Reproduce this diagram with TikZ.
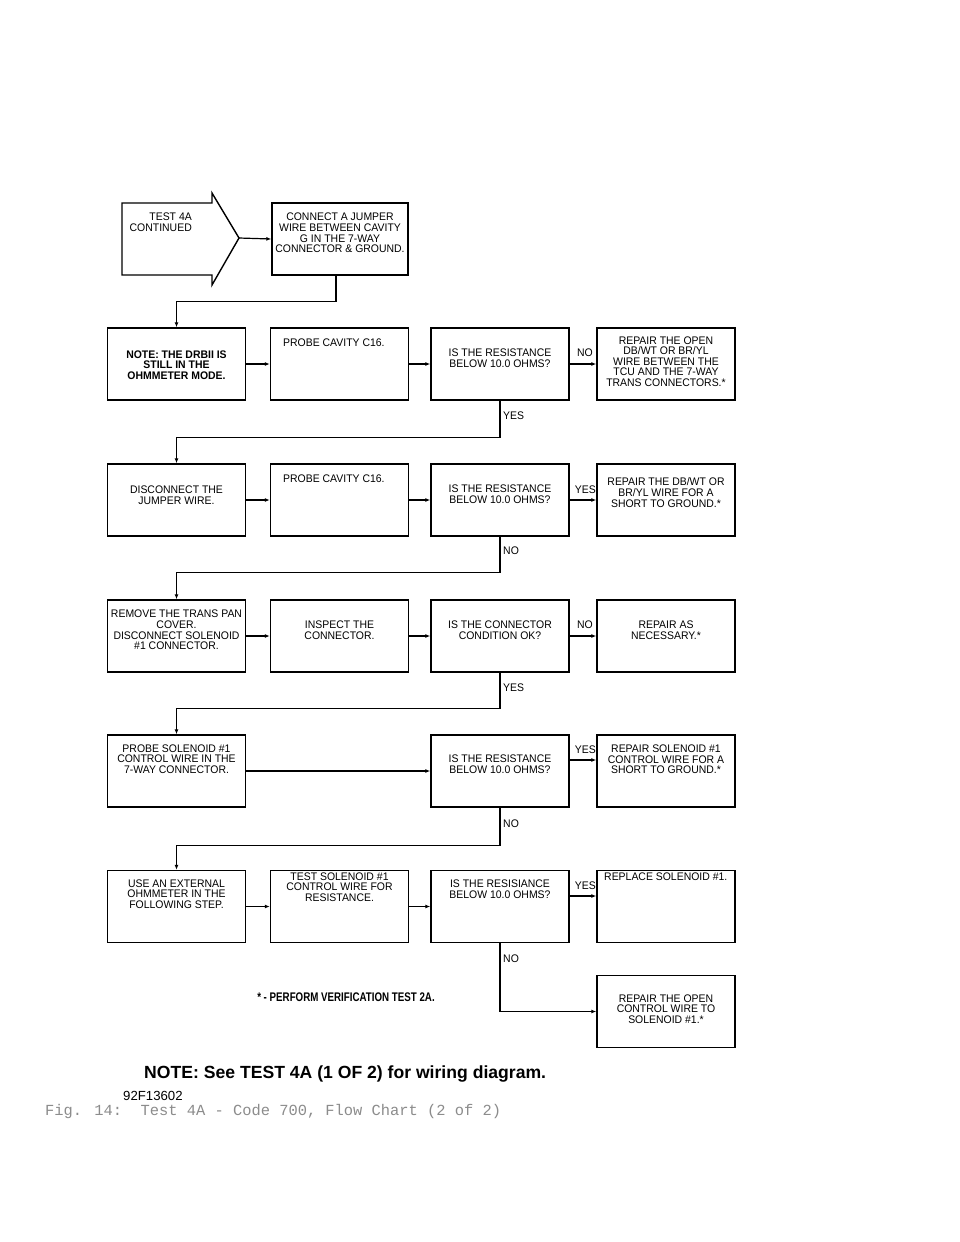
\documentclass[tikz,border=0pt]{standalone}
\usepackage{fontspec}
\setmainfont{Liberation Sans}
\newfontfamily\plotfont[FakeStretch=0.95]{Liberation Sans}
\newfontfamily\condfont[FakeStretch=0.78]{Liberation Sans}
\newfontfamily\capfont{Liberation Mono}
\usetikzlibrary{arrows.meta}

\begin{document}
\begin{tikzpicture}[x=1pt,y=-1pt,
    box/.style={draw, line width=1.4pt, minimum width=138, minimum height=72, inner sep=0},
    txt/.style={font=\plotfont\fontsize{11}{10.6}\selectfont, align=center, inner sep=0},
    lbl/.style={font=\plotfont\fontsize{11}{10.6}\selectfont, inner sep=0},
    link/.style={line width=1.2pt, -{Latex[length=5pt,width=4pt]}}]

        %PAGE
        \fill[white] (0,0) rectangle (960,1242);
        \useasboundingbox (0,0) rectangle (960,1242);

        %ROW 0
        \draw[line width=1.4pt] (122,203) -- (212,203) -- (212,193) -- (239,238) coordinate (tip)
            -- (212,285) -- (212,275) -- (122,275) -- cycle;
        \node[txt, align=right, anchor=east] (t0) at (192,222) {TEST 4A\\CONTINUED};
        \node[box, minimum width=136] (b0) at (340,239) {};
        \node[txt] (t0b) at (340,233) {CONNECT A JUMPER\\WIRE BETWEEN CAVITY\\G IN THE 7-WAY\\CONNECTOR \& GROUND.};
        \draw[link] (tip) -- (b0.west);

        %ROW 1
        \node[box] (b11) at (176.5,364) {};
        \node[box] (b12) at (339.5,364) {};
        \node[box] (b13) at (500,364) {};
        \node[box] (b14) at (666,364) {};
        \node[txt] (t11) at (176.5,365) {\bfseries NOTE: THE DRBII IS\\\bfseries STILL IN THE\\\bfseries OHMMETER MODE.};
        \node[txt, anchor=west] (t12) at (283,343) {PROBE CAVITY C16.};
        \node[txt] (t13) at (500,358) {IS THE RESISTANCE\\BELOW 10.0 OHMS?};
        \node[txt] (t14) at (666,361.5) {REPAIR THE OPEN\\DB/WT OR BR/YL\\WIRE BETWEEN THE\\TCU AND THE 7-WAY\\TRANS CONNECTORS.*};
        \draw[link] ([xshift=-4]b0.south) -- ++(0,26) -| (b11.north);
        \draw[link] (b11) -- (b12);
        \draw[link] (b12) -- (b13);
        \draw[link] (b13) -- (b14);
        \node[lbl, anchor=east] (n1) at (593,353) {NO};

        %ROW 2
        \node[box] (b21) at (176.5,500) {};
        \node[box] (b22) at (339.5,500) {};
        \node[box] (b23) at (500,500) {};
        \node[box] (b24) at (666,500) {};
        \node[txt] (t21) at (176.5,495) {DISCONNECT THE\\JUMPER WIRE.};
        \node[txt, anchor=west] (t22) at (283,479) {PROBE CAVITY C16.};
        \node[txt] (t23) at (500,494.5) {IS THE RESISTANCE\\BELOW 10.0 OHMS?};
        \node[txt] (t24) at (666,492.5) {REPAIR THE DB/WT OR\\BR/YL WIRE FOR A\\SHORT TO GROUND.*};
        \draw[link] (b13.south) -- ++(0,36.7) -| (b21.north);
        \node[lbl, anchor=west] (y1) at (503,416) {YES};
        \draw[link] (b21) -- (b22);
        \draw[link] (b22) -- (b23);
        \draw[link] (b23) -- (b24);
        \node[lbl, anchor=east] (y2) at (596,490) {YES};

        %ROW 3
        \node[box] (b31) at (176.5,636) {};
        \node[box] (b32) at (339.5,636) {};
        \node[box] (b33) at (500,636) {};
        \node[box] (b34) at (666,636) {};
        \node[txt] (t31) at (176.5,630) {REMOVE THE TRANS PAN\\COVER.\\DISCONNECT SOLENOID\\\#1 CONNECTOR.};
        \node[txt] (t32) at (339.5,630) {INSPECT THE\\CONNECTOR.};
        \node[txt] (t33) at (500,630) {IS THE CONNECTOR\\CONDITION OK?};
        \node[txt] (t34) at (666,630) {REPAIR AS\\NECESSARY.*};
        \draw[link] (b23.south) -- ++(0,35.7) -| (b31.north);
        \node[lbl, anchor=west] (n2) at (503,551) {NO};
        \draw[link] (b31) -- (b32);
        \draw[link] (b32) -- (b33);
        \draw[link] (b33) -- (b34);
        \node[lbl, anchor=east] (n3) at (593,625) {NO};

        %ROW 4
        \node[box] (b41) at (176.5,771) {};
        \node[box] (b43) at (500,771) {};
        \node[box] (b44) at (666,771) {};
        \node[txt] (t41) at (176.5,759) {PROBE SOLENOID \#1\\CONTROL WIRE IN THE\\7-WAY CONNECTOR.};
        \node[txt] (t43) at (500,764.5) {IS THE RESISTANCE\\BELOW 10.0 OHMS?};
        \node[txt] (t44) at (666,759.5) {REPAIR SOLENOID \#1\\CONTROL WIRE FOR A\\SHORT TO GROUND.*};
        \draw[link] (b33.south) -- ++(0,36) -| (b41.north);
        \node[lbl, anchor=west] (y3) at (503,688) {YES};
        \draw[link] (b41) -- (b43);
        \draw[link] ([yshift=11]b43.east) -- ([yshift=11]b44.west);
        \node[lbl, anchor=east] (y4) at (596,750) {YES};

        %ROW 5
        \node[box] (b51) at (176.5,906.5) {};
        \node[box] (b52) at (339.5,906.5) {};
        \node[box] (b53) at (500,906.5) {};
        \node[box] (b54) at (666,906.5) {};
        \node[txt] (t51) at (176.5,894) {USE AN EXTERNAL\\OHMMETER IN THE\\FOLLOWING STEP.};
        \node[txt] (t52) at (339.5,887) {TEST SOLENOID \#1\\CONTROL WIRE FOR\\RESISTANCE.};
        \node[txt] (t53) at (500,889.5) {IS THE RESISIANCE\\BELOW 10.0 OHMS?};
        \node[txt, anchor=west] (t54) at (604,877) {REPLACE SOLENOID \#1.};
        \draw[link] (b43.south) -- ++(0,38) -| (b51.north);
        \node[lbl, anchor=west] (n4) at (503,824) {NO};
        \draw[link] (b51) -- (b52);
        \draw[link] (b52) -- (b53);
        \draw[link] ([yshift=10.5]b53.east) -- ([yshift=10.5]b54.west);
        \node[lbl, anchor=east] (y5) at (596,886) {YES};

        %ROW 6
        \node[box] (b6) at (666,1011.5) {};
        \node[txt] (t6) at (666,1009) {REPAIR THE OPEN\\CONTROL WIRE TO\\SOLENOID \#1.*};
        \draw[link] (b53.south) |- (b6.west);
        \node[lbl, anchor=west] (n5) at (503,959) {NO};

        %FOOTER
        \node[font=\condfont\bfseries\fontsize{12.5}{13}\selectfont, inner sep=0] (star) at (346,997) {* - PERFORM VERIFICATION TEST 2A.};
        \node[anchor=base west, font=\bfseries\fontsize{17.6}{20}\selectfont, inner sep=0] (note) at (144,1078) {NOTE: See TEST 4A (1 OF 2) for wiring diagram.};
        \node[anchor=base west, font=\fontsize{13.2}{15}\selectfont, inner sep=0] (code) at (123,1100) {92F13602};
        \node[anchor=base west, font=\capfont\fontsize{15.4}{17}\selectfont, text=gray!90, inner sep=0] (cap) at (45,1115) {Fig. 14:\ \ Test 4A - Code 700, Flow Chart (2 of 2)};
    \end{tikzpicture}
\end{document}
